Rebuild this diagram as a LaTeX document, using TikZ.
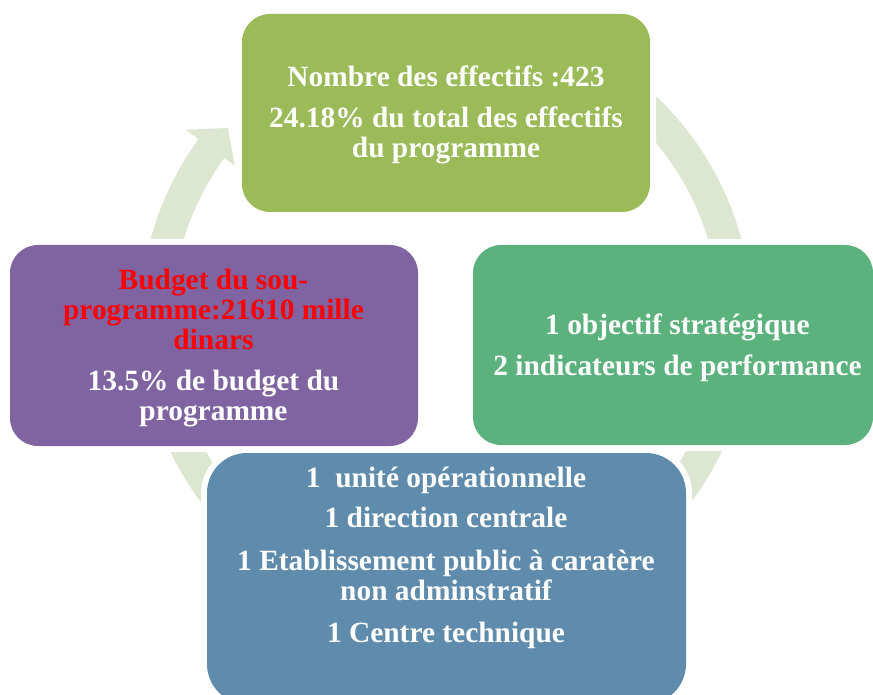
\documentclass[tikz,border=0pt]{standalone}
\usepackage{fontspec}
\setmainfont{Liberation Serif}
\usetikzlibrary{calc}
\definecolor{ringc}{RGB}{221,230,209}
\definecolor{topc}{RGB}{155,187,89}
\definecolor{rightc}{RGB}{92,178,124}
\definecolor{leftc}{RGB}{128,100,162}
\definecolor{botc}{RGB}{95,140,172}
\begin{document}
\begin{tikzpicture}[x=1pt,y=-1pt,
  box/.style={rectangle, rounded corners=28pt, inner sep=0pt, preaction={draw=white, line width=12pt}},
  txt/.style={anchor=base, text=white, font=\bfseries\fontsize{29.4}{30}\selectfont, inner sep=0pt},
  redtxt/.style={txt, text=red}]
\useasboundingbox (0,0) rectangle (873,695);
\coordinate (c) at (446,319);
% ring with arrow
\fill[ringc] ($(c)+(-60:306)$) arc[start angle=-60,end angle=216,radius=306]
  -- ($(c)+(216:274)$) arc[start angle=216,end angle=-60,radius=274] -- cycle;
\fill[ringc] ($(c)+(216:322)$) -- ($(c)+(221.2:290)$) -- ($(c)+(216:261)$) -- cycle;
% boxes
\node[box, fill=topc, minimum width=408pt, minimum height=198pt] (top) at (446,113) {};
\node[box, fill=rightc, minimum width=400pt, minimum height=200pt] (right) at (673,345) {};
\node[box, fill=leftc, minimum width=408pt, minimum height=201pt] (left) at (214,345.5) {};
\node[box, fill=botc, rounded corners=40pt, minimum width=479pt, minimum height=251pt] (bottom) at (446.5,578.5) {};
% texts
\node[txt] (t1) at (446,87) {Nombre des effectifs :423};
\node[txt] (t2) at (446,128) {24.18\% du total des effectifs};
\node[txt] (t3) at (446,158) {du programme};
\node[txt] (r1) at (677.5,334) {1 objectif stratégique};
\node[txt] (r2) at (677.5,375) {2 indicateurs de performance};
\node[redtxt] (l1) at (213.5,289) {Budget du sou-};
\node[redtxt] (l2) at (213.5,319) {programme:21610 mille};
\node[redtxt] (l3) at (213.5,349) {dinars};
\node[txt] (l4) at (213.5,390) {13.5\% de budget du};
\node[txt] (l5) at (213.5,420) {programme};
\node[txt] (b1) at (446,487) {1\ \ unité opérationnelle};
\node[txt] (b2) at (446,527) {1 direction centrale};
\node[txt] (b3) at (446,570) {1 Etablissement public à caratère};
\node[txt] (b4) at (446,600) {non adminstratif};
\node[txt] (b5) at (446,642) {1 Centre technique};
\end{tikzpicture}
\end{document}
